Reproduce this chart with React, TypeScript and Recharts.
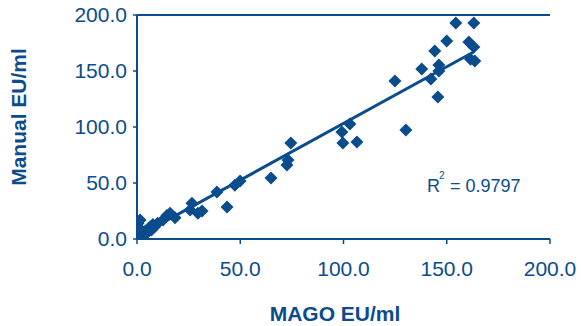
import React from "react"
import { ScatterChart, Scatter, XAxis, YAxis, ReferenceLine, Label } from "recharts"

const BLUE = "#0a4c8c"
const FONT = "Arial, 'Liberation Sans', Helvetica, sans-serif"

// MAGO EU/ml (x) vs Manual EU/ml (y)
const mago = [
  154.4, 163.1, 150.0, 160.7, 163.1, 144.2, 163.6, 161.5, 137.9, 146.2, 146.2, 142.3, 124.9, 145.7, 130.2,
  103.1, 99.2, 99.7, 106.5, 74.5, 73.1, 72.6, 64.9, 49.9, 47.4, 43.6, 38.7, 26.6, 25.7, 31.5,
  29.5, 18.4, 16.0, 14.5, 12.6, 10.0, 7.7, 6.3, 5.3, 1.5, 0.5, 0.5, 0.0, 0.5, 2.9,
  7.0, 4.8, 0.0, 1.0, 3.0, 2.0, 8.5, 4.0,
]
const manual = [
  192.9, 192.9, 176.8, 175.9, 171.4, 167.9, 158.9, 160.5, 151.8, 155.4, 150.0, 142.9, 141.0, 126.8, 97.3,
  102.7, 95.5, 85.7, 86.6, 85.7, 70.5, 66.0, 54.5, 51.8, 48.0, 28.6, 42.0, 32.0, 26.0, 25.0,
  23.0, 19.0, 23.0, 21.0, 17.0, 14.0, 13.0, 10.7, 9.0, 17.0, 14.0, 10.0, 6.0, 3.6, 6.0,
  8.0, 5.4, 2.0, 1.0, 3.0, 8.0, 11.0, 7.0,
]

// linear fit endpoints as drawn
const fitX = [0, 163]
const fitY = [2, 167]

const axisTicks = [0, 50, 100, 150, 200]
const r2Text = "0.9797"

const points = mago.map((x, i) => ({ x, y: manual[i] }))
const fit = fitX.map((x, i) => ({ x, y: fitY[i] }))

const Diamond = (props: any) => {
  const { cx, cy } = props
  if (cx == null || cy == null) return null
  const h = 6.5
  return (
    <polygon
      points={`${cx},${cy - h} ${cx + h},${cy} ${cx},${cy + h} ${cx - h},${cy}`}
      fill={BLUE}
    />
  )
}

const tickStyle = { fill: BLUE, fontSize: 21, fontFamily: FONT }

export default function App() {
  return (
    <div style={{ position: "absolute", left: 0, top: 0, background: "#fff" }}>
      <ScatterChart width={581} height={326} margin={{ top: 15, right: 31, bottom: 0, left: 0 }}>
        <XAxis
          type="number"
          dataKey="x"
          domain={[0, 200]}
          ticks={axisTicks}
          tickFormatter={(v: number) => v.toFixed(1)}
          tick={tickStyle}
          tickSize={5}
          tickMargin={17}
          height={87}
          axisLine={{ stroke: BLUE, strokeWidth: 2 }}
          tickLine={{ stroke: BLUE, strokeWidth: 1.5 }}
          allowDataOverflow
        >
          <Label
            content={() => (
              <text x={335} y={321} textAnchor="middle" fill={BLUE} fontSize={21} fontWeight="bold" fontFamily={FONT}>
                MAGO EU/ml
              </text>
            )}
          />
        </XAxis>
        <YAxis
          type="number"
          dataKey="y"
          domain={[0, 200]}
          ticks={axisTicks}
          tickFormatter={(v: number) => v.toFixed(1)}
          tick={tickStyle}
          tickSize={4}
          tickMargin={6}
          width={137}
          axisLine={{ stroke: BLUE, strokeWidth: 2 }}
          tickLine={{ stroke: BLUE, strokeWidth: 1.5 }}
          allowDataOverflow
        >
          <Label
            content={() => (
              <text
                x={26}
                y={117}
                transform="rotate(-90 26 117)"
                textAnchor="middle"
                fill={BLUE}
                fontSize={21}
                fontWeight="bold"
                fontFamily={FONT}
              >
                Manual EU/ml
              </text>
            )}
          />
        </YAxis>
        <ReferenceLine y={200} stroke={BLUE} strokeWidth={2} />
        <Scatter data={points} shape={Diamond} isAnimationActive={false} />
        <Scatter
          data={fit}
          line={{ stroke: BLUE, strokeWidth: 3 }}
          shape={() => null}
          legendType="none"
          isAnimationActive={false}
        />
        <text x={427} y={192} fill={BLUE} fontSize={18} fontFamily={FONT}>
          R
        </text>
        <text x={439} y={179} fill={BLUE} fontSize={10} fontFamily={FONT}>
          2
        </text>
        <text x={450} y={192} fill={BLUE} fontSize={18} fontFamily={FONT}>
          {"= " + r2Text}
        </text>
      </ScatterChart>
    </div>
  )
}
